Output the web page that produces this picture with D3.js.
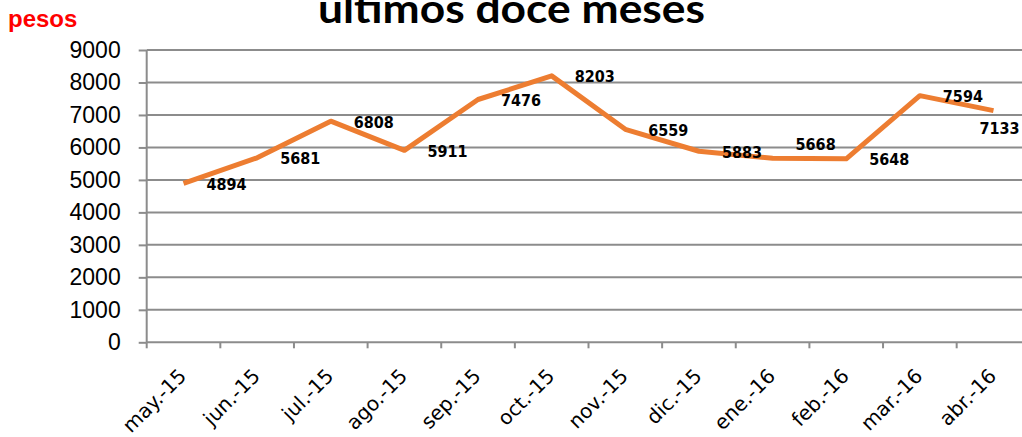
<!DOCTYPE html>
<html lang="es">
<head>
<meta charset="utf-8">
<title>últimos doce meses</title>
<script src="https://d3js.org/d3.v7.min.js"></script>
<style>
  body { margin: 0; background: #fff; }
  .tick text { font-family: "Liberation Sans", Arial, sans-serif; }
  .lbl { font-family: "DejaVu Sans Condensed", "DejaVu Sans", sans-serif; font-weight: bold; font-stretch: condensed; font-size: 16px; fill: #000; }
</style>
</head>
<body>
<script>
// data
const months = ["may.-15", "jun.-15", "jul.-15", "ago.-15", "sep.-15", "oct.-15",
                "nov.-15", "dic.-15", "ene.-16", "feb.-16", "mar.-16", "abr.-16"];
const pesos = [4894, 5681, 6808, 5911, 7476, 8203, 6559, 5883, 5668, 5648, 7594, 7133];
const yTicks = [0, 1000, 2000, 3000, 4000, 5000, 6000, 7000, 8000, 9000];

const w = 1022, h = 437;
const plotLeft = 146.7, plotRight = 1030.3, plotTop = 50, plotBottom = 342.3;
const orange = "#ED7D31";
const grey = "#8c8c8c";

const svg = d3.select("body").append("svg")
    .attr("width", w)
    .attr("height", h);

const x = d3.scaleBand().domain(months).range([plotLeft, plotRight]).padding(0);
const y = d3.scaleLinear().domain([0, 9000]).range([plotBottom, plotTop]);
const cx = i => x(months[i]) + x.bandwidth() / 2;

// horizontal gridlines
svg.append("g")
    .selectAll("line")
    .data(yTicks.filter(d => d > 0))
    .join("line")
    .attr("x1", plotLeft).attr("x2", w)
    .attr("y1", d => y(d)).attr("y2", d => y(d))
    .attr("stroke", grey).attr("stroke-width", 2);

// y axis
const yAxis = svg.append("g")
    .attr("transform", `translate(${plotLeft},0)`)
    .call(d3.axisLeft(y).tickValues(yTicks).tickSize(8).tickPadding(18).tickFormat(d3.format("d")));
yAxis.selectAll("line, path").attr("stroke", grey).attr("stroke-width", 2);
yAxis.select(".domain").attr("d", `M0,${plotTop}V${plotBottom}`);
yAxis.selectAll("text").attr("font-size", 23).attr("fill", "#000");

// x axis, ticks on band edges
const xAxis = svg.append("g").attr("transform", `translate(0,${plotBottom})`);
xAxis.append("line")
    .attr("x1", plotLeft).attr("x2", w)
    .attr("stroke", grey).attr("stroke-width", 2);
xAxis.selectAll("line.tk")
    .data(months)
    .join("line")
    .attr("class", "tk")
    .attr("x1", d => x(d)).attr("x2", d => x(d))
    .attr("y1", 0).attr("y2", 6)
    .attr("stroke", grey).attr("stroke-width", 2);
xAxis.selectAll("text")
    .data(months)
    .join("text")
    .attr("transform", d => `translate(${x(d) + x.bandwidth() / 2 + 4},35) rotate(-45)`)
    .attr("text-anchor", "end")
    .attr("font-family", "'DejaVu Sans', sans-serif")
    .attr("font-size", 20)
    .text(d => d);

// the line
const line = d3.line()
    .x((d, i) => cx(i))
    .y(d => y(d));

svg.append("path")
    .datum(pesos)
    .attr("fill", "none")
    .attr("stroke", orange)
    .attr("stroke-width", 5)
    .attr("stroke-linejoin", "round")
    .attr("d", line);

// data labels: right of the point; ene. was lifted, the last one sits below
const last = pesos.length - 1;
const lifted = 8;
svg.selectAll("text.lbl")
    .data(pesos)
    .join("text")
    .attr("class", "lbl")
    .attr("x", (d, i) => cx(i) + (i === last ? 6 : 23))
    .attr("y", (d, i) => y(d) + (i === last ? 18 : i === lifted ? -14 : 1))
    .attr("text-anchor", (d, i) => i === last ? "middle" : "start")
    .attr("dominant-baseline", "central")
    .text(d => d);

// title (cut by the top edge) and unit
svg.append("text")
    .attr("x", 318).attr("y", 23)
    .attr("font-family", "Lato, 'Liberation Sans', sans-serif")
    .attr("font-weight", "bold")
    .attr("font-size", 40)
    .attr("textLength", 387)
    .attr("lengthAdjust", "spacingAndGlyphs")
    .text("últimos doce meses");

svg.append("text")
    .attr("x", 8).attr("y", 27)
    .attr("font-family", "'Liberation Sans', Arial, sans-serif")
    .attr("font-weight", "bold")
    .attr("font-size", 24)
    .attr("fill", "#ff0000")
    .text("pesos");
</script>
</body>
</html>
